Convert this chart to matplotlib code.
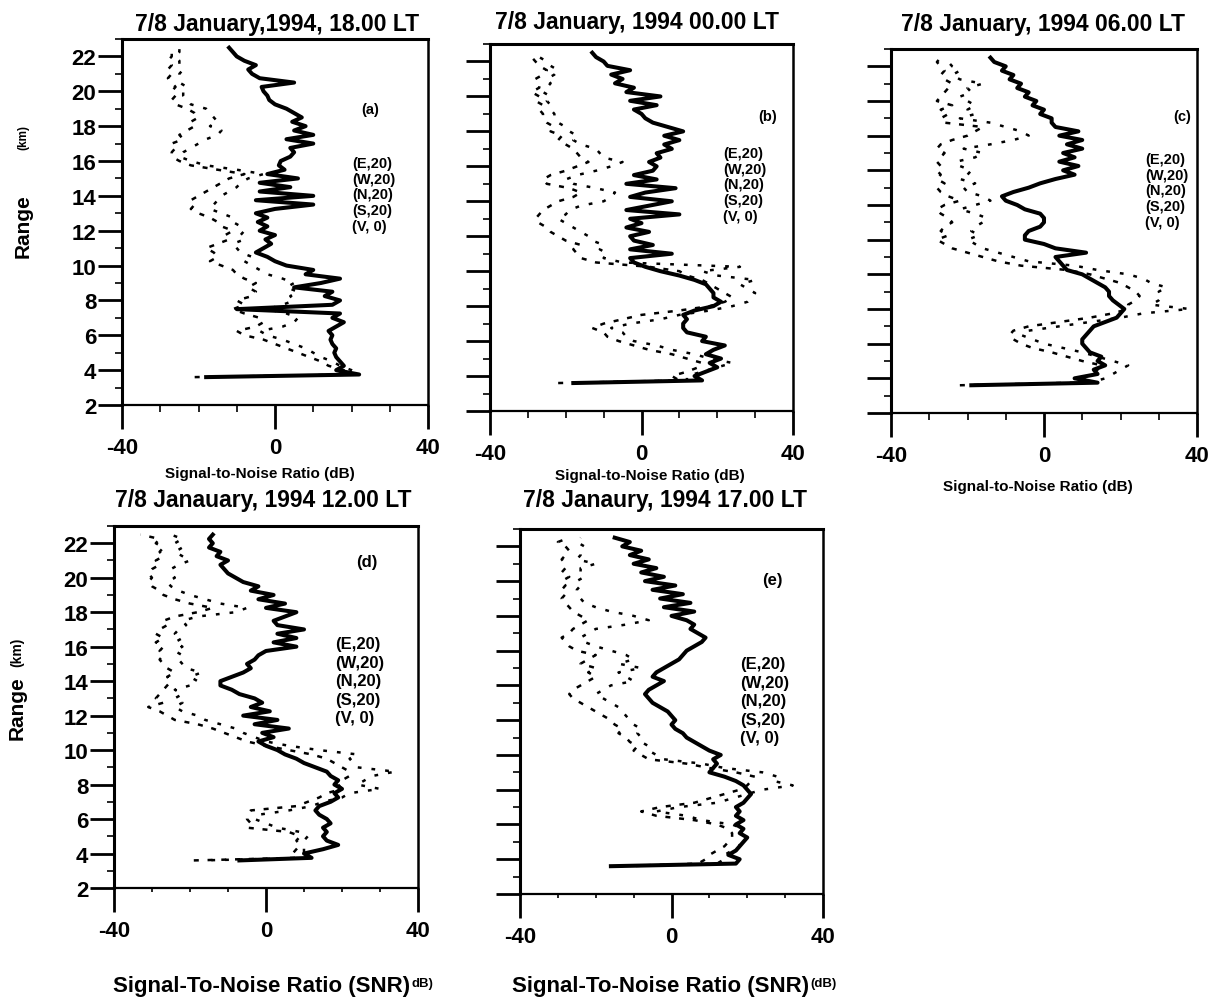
import numpy as np
import matplotlib
matplotlib.use("Agg")
import matplotlib.pyplot as plt
from matplotlib.ticker import MultipleLocator

plt.rcParams['font.family'] = ['Liberation Sans', 'DejaVu Sans']
plt.rcParams['font.weight'] = 'bold'
plt.rcParams['axes.unicode_minus'] = False

# ---------------- data ----------------
# range gates (km): first gate 3.6 km, then every 0.25 km up to 22.5 km
range_km = np.concatenate([[3.6], np.arange(3.75, 22.51, 0.25)])

# (a) 18.00 LT
a_vertical = [-18, 22, 16, 18, 17, 16, 15.5, 16, 15, 14.5,
              15, 14, 16, 18, 15, 17, -10, 15, 17, 13,
              15, 5, 12, 17, 8, 10, 3, 0, -2, -5,
              -3, -1, -2.5, 0, -4, -2, -4.5, -2, -5, 0,
              10, -5, 10, -4, 4, -4, 6, -2, 2.5, 1,
              1.5, 4, 5, 4, 10, 3, 10, 5, 8, 4.5,
              7, 5, 3, 0, -1.5, -2, -3, -3.5, 5, -4,
              -6, -7, -5, -8, -10, -11, -12]
a_oblique_1 = [-21, 20, 18, 14, 12, 9, 6, 3, 0, -3,
               -8, -10, -5, -3, -4, -8, -11, -8, -10, -6,
               -5, -7, -5, -8, -10, -11, -14, -17, -15, -16,
               -18, -15, -12, -13, -11, -14, -15, -17, -20, -22,
               -21, -22, -20, -18, -16, -14, -12, -8, -15, -22,
               -25, -27, -27, -26, -27, -24, -25, -23, -21, -22,
               -20, -21, -23, -26, -27, -26, -27, -26, -27, -28,
               -27, -28, -27, -28, -27, -27, -26]
a_oblique_2 = [-18, 22, 20, 17, 15, 12, 10, 8, 5, 2,
               -2, -4, 2, 5, 6, 3, -2, 2, 5, 4,
               6, 3, 5, 2, -2, -4, -6, -8, -6, -9,
               -10, -11, -8, -9, -8, -9, -11, -11, -14, -17,
               -16, -15, -14, -12, -10, -9, -7, -3, -10, -18,
               -22, -25, -24, -22, -20, -18, -15, -14, -17, -15,
               -16, -17, -18, -22, -23, -24, -24, -23, -25, -25,
               -25, -24, -25, -25, -26, -25, -25]

# (b) 00.00 LT
b_vertical = [-18, 16, 14, 17, 20, 18, 21, 17, 19, 22,
              16, 17, 12, 11, 11, 12, 11, 14, 19, 21,
              19, 19, 18, 17, 14, 10, 5, 1, -2, -3,
              8, -3, 3, -2, -3, 2, -4, 0, -3, 10,
              -4, 2, 8, -3, 1, 9, -4, 4, -2, 3,
              4, 2, 5, 4, 8, 6, 10, 6, 11, 7,
              3, 1, 0, -2, 4, -3, 5, -4, -2, -7,
              -5, -8, -3, -9, -10, -12, -13]
b_oblique_1 = [-22, 10, 8, 12, 15, 16, 12, 8, 2, -2,
               -6, -9, -10, -13, -10, -5, 0, 10, 18, 22,
               24, 22, 20, 18, 16, 12, 10, 2, -12, -16,
               -17, -18, -16, -20, -22, -24, -25, -27, -28, -27,
               -26, -24, -22, -18, -16, -19, -25, -26, -24, -20,
               -17, -14, -16, -17, -18, -20, -22, -21, -24, -23,
               -25, -26, -26, -27, -26, -28, -27, -29, -27, -27,
               -28, -26, -25, -27, -28, -29, -28]
b_oblique_2 = [-20, 12, 12, 16, 20, 24, 18, 14, 8, 4,
               -2, -4, -5, -8, -3, 5, 10, 18, 24, 28,
               29, 30, 28, 26, 30, 20, 16, 26, -5, -10,
               -9, -11, -10, -13, -14, -16, -18, -20, -22, -20,
               -19, -16, -10, -8, -7, -12, -18, -20, -17, -12,
               -8, -5, -10, -11, -12, -16, -18, -17, -19, -20,
               -22, -23, -23, -24, -24, -25, -24, -26, -25, -24,
               -25, -23, -22, -24, -25, -27, -26]

# (c) 06.00 LT
c_vertical = [-19, 14, 8, 14, 13, 16, 14, 15, 12, 11,
              10, 10, 11, 12, 13, 16, 19, 20, 21, 19.5,
              18, 17, 17, 16, 14, 12, 10, 6, 5, 4,
              3, 11, 3, 0, -5, -5, -4, -1, 0, 0,
              -1, -5, -7, -10, -11, -8, -4, -1, 3, 8,
              5, 9, 4, 8, 5, 10, 6, 10, 4, 9,
              3, 2, 2, -1, 0, -3, -2, -5, -4, -7,
              -6, -9, -8, -11, -10, -13, -14]
c_oblique_1 = [-22, 8, 10, 12, 14, 15, 10, 6, 2, -3,
               -6, -8, -9, -8, -4, 4, 12, 18, 22, 22,
               24, 25, 24, 22, 20, 16, 12, 6, -6, -12,
               -16, -20, -24, -26, -28, -25, -27, -26, -24, -25,
               -27, -28, -26, -22, -25, -27, -28, -26, -28, -27,
               -28, -27, -28, -27, -26, -28, -27, -24, -20, -18,
               -16, -26, -27, -25, -27, -24, -28, -27, -26, -25,
               -24, -26, -27, -26, -27, -28, -27]
c_oblique_2 = [-20, 12, 16, 18, 20, 22, 18, 14, 10, 5,
               0, -3, -6, -4, 4, 12, 20, 26, 38, 28,
               30, 31, 30, 32, 28, 26, 22, 14, 8, -4,
               -8, -12, -16, -18, -20, -17, -19, -18, -16, -15,
               -18, -22, -18, -14, -16, -20, -21, -18, -22, -20,
               -19, -22, -23, -18, -16, -21, -14, -8, -4, -6,
               -10, -14, -22, -18, -20, -18, -20, -22, -19, -20,
               -16, -22, -24, -22, -24, -25, -25]

# (d) 12.00 LT
d_vertical = [-7, 12, 10, 15, 19, 16, 15, 16, 15, 17,
              16, 14, 13, 14, 17, 19, 18, 20, 18, 19,
              17, 16, 13, 10, 8, 5, 3, 0, -2, 2,
              -1, 6, -3, 3, -6, 1, -4, -1, -3, -7,
              -9, -12, -12, -9, -6, -4, -5, -3, -2, 0,
              8, 2, 8, 3, 10, 3, 2, 5, 8, 0,
              5, -2, 2, -4, -2, -6, -8, -10, -11, -12,
              -10, -13, -12, -15, -14, -15, -14]
d_oblique_1 = [-19, 8, 7, 8, 9, 8, 9, 6, -5, -4,
               -5, -5, -4, 8, 11, 14, 16, 20, 19, 20,
               22, 22, 20, 18, 16, 12, 6, 0, -5, -8,
               -11, -14, -18, -24, -26, -28, -31, -27, -29, -28,
               -27, -26, -25, -26, -24, -26, -27, -28, -27, -28,
               -27, -29, -27, -29, -28, -26, -27, -24, -18, -14,
               -20, -24, -27, -28, -30, -31, -30, -31, -30, -28,
               -29, -27, -28, -27, -29, -28, -33]
d_oblique_2 = [-17, 12, 10, 10, 10, 10, 11, 9, 3, 0,
               -3, -2, 6, 12, 15, 20, 22, 30, 24, 26,
               28, 34, 24, 23, 22, 24, 14, 6, 0, -3,
               -6, -8, -12, -16, -18, -22, -24, -22, -24, -22,
               -24, -20, -18, -20, -17, -21, -22, -23, -22, -24,
               -22, -24, -22, -24, -23, -21, -22, -18, -8, -5,
               -12, -16, -20, -23, -25, -26, -24, -25, -25, -23,
               -20, -22, -24, -22, -24, -22, -25]

# (e) 17.00 LT
e_vertical = [-16, 17, 18, 15, 17, 18, 19, 20, 18, 19,
              17, 19, 17, 18, 17, 19, 20, 21, 20, 19,
              17, 14, 10, 11, 12, 11, 13, 10, 8, 6,
              4, 3, 1, 0, 1, 0, -1, -3, -5, -6,
              -7, -6, -4, -2, -5, -4, -2, 0, 2, 3,
              4, 6, 8, 9, 7, 5, 6, 4, 0, 6,
              -2, 5, -3, 3, -5, 1, -7, -2, -8, -4,
              -10, -6, -11, -8, -13, -11, -15]
e_oblique_1 = [-14, 7, 9, 10, 12, 14, 15, 16, 16, 15,
               12, 6, -4, -8, -3, 6, 10, 14, 18, 20,
               21, 22, 17, 10, 4, -6, -8, -10, -9, -11,
               -12, -14, -13, -15, -16, -18, -20, -22, -24, -26,
               -27, -26, -24, -22, -20, -22, -20, -24, -22, -20,
               -25, -27, -28, -29, -27, -26, -24, -22, -24, -26,
               -27, -28, -29, -28, -29, -28, -29, -27, -29, -28,
               -28, -29, -28, -27, -28, -30, -27]
e_oblique_2 = [-12, 12, 14, 14, 16, 18, 18, 18, 18, 19,
               16, 8, 4, -4, 2, 12, 16, 20, 24, 32,
               27, 28, 24, 14, 8, -2, -4, -6, -6, -8,
               -8, -9, -8, -10, -11, -12, -13, -14, -16, -18,
               -20, -18, -16, -10, -12, -14, -8, -14, -10, -12,
               -16, -20, -23, -24, -22, -20, -12, -6, -10, -16,
               -20, -23, -24, -25, -25, -24, -25, -23, -24, -24,
               -20, -25, -24, -24, -23, -25, -24]

titles = ["7/8 January,1994, 18.00 LT",
          "7/8 January, 1994 00.00 LT",
          "7/8 January, 1994 06.00 LT",
          "7/8 Janauary, 1994 12.00 LT",
          "7/8 Janaury, 1994 17.00 LT"]
panel_letters = ["(a)", "(b)", "(c)", "(d)", "(e)"]
beam_labels = ["(E,20)", "(W,20)", "(N,20)", "(S,20)", "(V, 0)"]
x_ticks = [-40, 0, 40]
y_ticks = [2, 4, 6, 8, 10, 12, 14, 16, 18, 20, 22]

panels = [
    (a_vertical, a_oblique_1, a_oblique_2),
    (b_vertical, b_oblique_1, b_oblique_2),
    (c_vertical, c_oblique_1, c_oblique_2),
    (d_vertical, d_oblique_1, d_oblique_2),
    (e_vertical, e_oblique_1, e_oblique_2),
]

# ---------------- layout (pixels) ----------------
W, H = 1209, 1004
fig = plt.figure(figsize=(W / 100, H / 100), dpi=100)
fig.patch.set_facecolor('white')


def fx(px):
    return px / W


def fy(py):
    return 1 - py / H


boxes = [(122, 40, 428, 406), (490, 45, 793, 412), (891, 50, 1197, 414),
         (114, 527, 418, 889), (520, 530, 823, 895)]
title_pos = [(277, 25), (637, 23), (1043, 24), (263, 501), (665, 501)]
letter_pos = [(370, 110), (768, 117), (1182, 117), (367, 563), (772, 580)]
beam_pos = [(352, 157), (723, 147), (1145, 153), (335, 637), (740, 657)]
beam_size = [10.5, 10.5, 10.5, 12, 12]
show_ylabels = [True, False, False, True, False]
minor_x_len = [5, 5, 5, 3, 3]

for i, (box, (vert, obl1, obl2)) in enumerate(zip(boxes, panels)):
    l, t, r, b = box
    ax = fig.add_axes([fx(l), fy(b), fx(r) - fx(l), fy(t) - fy(b)])
    ax.plot(obl1, range_km, color='black', lw=1.8, ls=(0, (2.0, 3.5)))
    ax.plot(obl2, range_km, color='black', lw=1.8, ls=(1.5, (1.5, 4.0)))
    ax.plot(vert, range_km, color='black', lw=2.9, solid_joinstyle='round')
    ax.set_xlim(-40, 40)
    ax.set_ylim(2, 23)
    ax.set_xticks(x_ticks)
    ax.set_yticks(y_ticks)
    ax.xaxis.set_minor_locator(MultipleLocator(10))
    ax.yaxis.set_minor_locator(MultipleLocator(1))
    ax.tick_params(axis='both', which='major', direction='out', length=17,
                   width=2.0, labelsize=16, color='black')
    ax.tick_params(axis='y', which='minor', direction='out', length=5,
                   width=1.2)
    ax.tick_params(axis='x', which='minor', direction='out',
                   length=minor_x_len[i], width=1.2)
    ax.tick_params(axis='x', which='major', pad=6)
    ax.tick_params(axis='y', which='major', pad=1.5, labelleft=show_ylabels[i])
    for lab in ax.get_xticklabels() + ax.get_yticklabels():
        lab.set_fontweight('bold')
    ax.spines['left'].set_linewidth(2.2)
    ax.spines['top'].set_linewidth(2.2)
    ax.spines['bottom'].set_linewidth(1.6)
    ax.spines['right'].set_linewidth(1.8)

    tx, ty = title_pos[i]
    fig.text(fx(tx), fy(ty), titles[i], ha='center', va='center',
             fontsize=16.5, fontweight='bold')
    lx, ly = letter_pos[i]
    fig.text(fx(lx), fy(ly), panel_letters[i], ha='center', va='center',
             fontsize=beam_size[i], fontweight='bold')
    bx, by = beam_pos[i]
    fig.text(fx(bx), fy(by), "\n".join(beam_labels), ha='left', va='top',
             fontsize=beam_size[i], fontweight='bold',
             linespacing=1.15 if i < 3 else 1.3)

# x labels, top row
for (cx, cy) in [(260, 474), (650, 476), (1038, 487)]:
    fig.text(fx(cx), fy(cy), "Signal-to-Noise Ratio (dB)", ha='center',
             va='center', fontsize=11, fontweight='bold')

# x labels, bottom row (main text + small unit)
renderer = fig.canvas.get_renderer()
for (lx0, cy, unit) in [(113, 987, "dB)"), (512, 987, "(dB)")]:
    t = fig.text(fx(lx0), fy(cy), "Signal-To-Noise Ratio (SNR)", ha='left',
                 va='center', fontsize=16, fontweight='bold')
    ext = t.get_window_extent(renderer=renderer)
    fig.text(ext.x1 / W + 0.001, fy(cy - 3), unit, ha='left', va='center',
             fontsize=9.5, fontweight='bold')

# y labels
fig.text(fx(23), fy(226), "Range", rotation=90, ha='center', va='center',
         fontsize=15, fontweight='bold')
fig.text(fx(23), fy(138), "(km)", rotation=90, ha='center', va='center',
         fontsize=8.5, fontweight='bold')
fig.text(fx(17), fy(708), "Range", rotation=90, ha='center', va='center',
         fontsize=15, fontweight='bold')
fig.text(fx(17), fy(652), "(km)", rotation=90, ha='center', va='center',
         fontsize=10, fontweight='bold')

fig.savefig("out.png", dpi=100, facecolor='white')
